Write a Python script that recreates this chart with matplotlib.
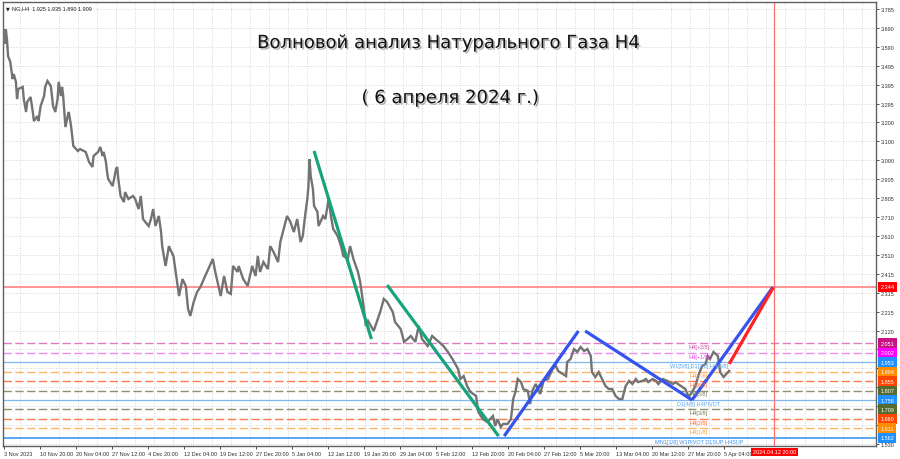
import matplotlib
matplotlib.use('Agg')
import matplotlib.pyplot as plt
import matplotlib.patheffects as pe
from matplotlib.transforms import blended_transform_factory
import numpy as np

# ---------------- data ----------------
bars = [0,1,2,3,4,6,8,9,11,12,13,17,18,20,21,24,26,27,30,31,33,36,37,39,42,44,46,48,49,51,
        52,53,55,57,58,60,61,62,66,68,73,76,79,80,84,86,88,89,91,92,93,97,100,101,102,104,107,108,111,115,
        117,120,122,124,126,129,131,133,135,138,140,141,144,147,148,151,153,156,159,162,164,166,169,172,175,178,182,186,188,193,
        196,199,202,204,208,209,213,217,221,224,226,228,231,235,237,240,244,246,249,252,255,258,261,264,266,268,270,271,272,273,
        275,276,279,280,284,286,289,291,293,297,300,302,306,308,311,315,317,320,322,324,329,332,335,338,341,346,348,353,356,359,
        362,366,369,372,377,381,384,387,391,395,399,404,406,409,412,415,420,422,426,430,435,437,439,442,444,448,451,453,455,457,
        460,462,466,468,470,473,477,480,484,488,491,493,497,500,501,504,507,510,513,516,519,522,523,526,529,532,535,538,541,544,
        547,550,553,556,559,562,564,568,571,573,577,580,582,586,590,595,597,602,606,609,612,615,618,621,624,626,628,631,635,637,
        640,644,645]
close = [3.671,3.604,3.681,3.629,3.541,3.510,3.422,3.448,3.407,3.318,3.370,3.381,3.318,3.251,3.303,3.329,3.251,3.204,3.230,3.204,
         3.282,3.334,3.381,3.412,3.386,3.282,3.251,3.318,3.407,3.334,3.381,3.334,3.173,3.230,3.251,3.178,3.127,3.075,3.049,3.059,
         3.044,2.992,2.966,3.023,3.044,3.070,3.023,3.044,2.992,2.940,2.904,2.867,2.956,2.966,2.904,2.816,2.784,2.836,2.800,2.816,
         2.800,2.748,2.816,2.696,2.681,2.660,2.696,2.748,2.660,2.712,2.629,2.556,2.453,2.556,2.541,2.505,2.422,2.297,2.385,2.349,
         2.230,2.194,2.266,2.318,2.344,2.385,2.437,2.489,2.427,2.297,2.401,2.318,2.308,2.453,2.422,2.453,2.385,2.349,2.453,2.401,
         2.505,2.422,2.473,2.437,2.556,2.525,2.473,2.577,2.645,2.712,2.681,2.629,2.696,2.577,2.608,2.712,2.800,2.867,3.007,2.919,
         2.852,2.764,2.733,2.660,2.712,2.696,2.800,2.712,2.645,2.608,2.556,2.505,2.489,2.556,2.489,2.422,2.370,2.245,2.142,2.168,
         2.116,2.168,2.219,2.282,2.266,2.214,2.162,2.126,2.059,2.074,2.090,2.059,2.142,2.074,2.038,2.090,2.074,2.059,2.038,2.007,
         1.971,1.919,1.867,1.882,1.831,1.800,1.779,1.696,1.659,1.644,1.675,1.623,1.659,1.618,1.634,1.634,1.659,1.763,1.800,1.867,
         1.851,1.815,1.805,1.737,1.805,1.841,1.789,1.857,1.867,1.919,1.934,1.908,1.893,1.882,1.955,1.971,2.022,2.007,2.033,2.012,
         2.022,1.986,1.903,1.877,1.903,1.867,1.831,1.815,1.815,1.779,1.763,1.763,1.831,1.857,1.841,1.867,1.851,1.857,1.867,1.851,
         1.867,1.857,1.841,1.867,1.857,1.841,1.851,1.831,1.815,1.774,1.800,1.831,1.893,1.934,1.945,1.986,1.971,2.007,1.986,1.903,
         1.877,1.903,1.909]

date_bars = list(range(0, 641, 32))
date_labels = ["3 Nov 2023", "10 Nov 20:00", "20 Nov 04:00", "27 Nov 12:00", "4 Dec 20:00",
               "12 Dec 04:00", "19 Dec 12:00", "27 Dec 20:00", "5 Jan 04:00", "12 Jan 12:00",
               "19 Jan 20:00", "29 Jan 04:00", "5 Feb 12:00", "12 Feb 20:00", "20 Feb 04:00",
               "27 Feb 12:00", "5 Mar 20:00", "13 Mar 04:00", "20 Mar 12:00", "27 Mar 20:00",
               "5 Apr 04:00"]

price_ticks = np.linspace(3.785, 1.530, 24)
# labels hidden behind the coloured level boxes are left blank
price_labels = ["3.785", "3.690", "3.590", "3.495", "3.395", "3.295", "3.200", "3.100",
                "3.000", "2.905", "2.805", "2.710", "2.610", "2.510", "2.415", "2.315",
                "2.215", "2.120", "", "", "", "", "", "1.530"]

# Murrey levels: value, line colour, box colour, linestyle, on-chart label, label colour
levels = [2.051, 2.002, 1.953, 1.904, 1.855, 1.807, 1.758, 1.709, 1.660, 1.611, 1.562]
level_line_colors = ['#e07ac4', '#f08af0', '#7fb8f0', '#ffb566', '#ff7a4a', '#8f9070',
                     '#7fb8f0', '#8f9070', '#ff7a4a', '#ffb566', '#2a8ff0']
level_box_colors = ['#c71585', '#ff00ff', '#1e90ff', '#ff8c00', '#ff4500', '#556b2f',
                    '#1e90ff', '#556b2f', '#ff4500', '#ff8c00', '#1e90ff']
level_styles = ['dash', 'dash', 'solid', 'dash', 'dash', 'dash', 'solid', 'dash', 'dash', 'dash', 'solid']
level_texts = ['H4[+2/8]', 'H4[+1/8]', 'W1[5/8] D1[3/8] H4[8/8]', 'H4[7/8]', 'H4[6/8]', 'H4[5/8]',
               'D1[4/8] H4PIVOT', 'H4[3/8]', 'H4[2/8]', 'H4[1/8]', 'MN1[1/8] W1PIVOT D1SUP H4SUP']
level_text_colors = ['#d048a8', '#ee44ee', '#5aa6ee', '#ff9f3a', '#ff6a3a', '#7f8060',
                     '#5aa6ee', '#6f7f4f', '#ff6a3a', '#ff9f3a', '#3a94ee']
level_text_bar = 618

red_level = 2.344
future_bar = 685
future_label = "2024.04.12 20:00"

# wave lines: (bar0, price0, bar1, price1)
green_waves = [(276, 3.049, 327, 2.074), (341, 2.354, 440, 1.571)]
blue_waves = [(445, 1.571, 511, 2.116), (517, 2.116, 612, 1.758), (612, 1.758, 684, 2.344)]
red_wave = [(645, 1.945, 684, 2.340)]

title1 = "Волновой анализ Натурального Газа H4"
title2 = "( 6 апреля 2024 г.)"
header = "NG,H4  1.925 1.935 1.890 1.909"

# ---------------- figure ----------------
W, H = 900, 460
fig = plt.figure(figsize=(W / 100, H / 100), dpi=100)
fig.patch.set_facecolor('white')
ax = fig.add_axes([3 / W, 1 - 447 / H, 873 / W, 444 / H])
ax.set_facecolor('white')
ax.set_xlim(-0.5, 775.5)
ax.set_ylim(1.5196, 3.8213)

fs = 4.0
font = 'Liberation Sans'

# grid / ticks
ax.set_yticks(price_ticks)
ax.set_yticklabels(price_labels)
ax.yaxis.tick_right()
ax.tick_params(axis='y', which='major', labelsize=fs, length=2, pad=1.5, width=0.6, colors='#303030')
for t in ax.get_yticklabels():
    t.set_fontfamily(font)
ax.grid(True, axis='y', which='major', color='#c8c8c8', linewidth=0.6, linestyle=(0, (1, 2)), zorder=0)

ax.set_xticks(date_bars)
ax.set_xticklabels(date_labels)
ax.set_xticks(np.arange(15, 776, 17), minor=True)
ax.tick_params(axis='x', which='major', labelsize=fs, length=2, pad=1.5, width=0.6, colors='#303030')
ax.tick_params(axis='x', which='minor', length=0)
for t in ax.get_xticklabels():
    t.set_ha('left')
    t.set_fontfamily(font)
ax.grid(True, axis='x', which='minor', color='#c8c8c8', linewidth=0.6, linestyle=(0, (1, 2)), zorder=0)
ax.set_axisbelow(True)

for s in ax.spines.values():
    s.set_color('#606060')
    s.set_linewidth(1.0)

ytrans = blended_transform_factory(ax.transAxes, ax.transData)
xtrans = blended_transform_factory(ax.transData, ax.transAxes)

box_pad = 'square,pad=0.45'

# levels
for v, lc, bc, st, txt, tc in zip(levels, level_line_colors, level_box_colors, level_styles,
                                  level_texts, level_text_colors):
    if st == 'dash':
        ax.axhline(v, color=lc, lw=1.0, dashes=(6, 2.5), zorder=2)
    else:
        ax.axhline(v, color=lc, lw=1.1 if v == levels[-1] else 0.9, zorder=2)
    ax.text(1.005, v, f"{v:.3f}", transform=ytrans, ha='left', va='center', fontsize=fs,
            family=font, color='white', zorder=10, clip_on=False,
            bbox=dict(boxstyle=box_pad, fc=bc, ec='none'))
    ax.text(level_text_bar, v - 0.004, txt, ha='center', va='top', fontsize=fs, family=font,
            color=tc, zorder=6)

ax.axhline(red_level, color='#ff8080', lw=1.2, zorder=2)
ax.text(1.005, red_level, f"{red_level:.3f}", transform=ytrans, ha='left', va='center', fontsize=fs,
        family=font, color='white', zorder=10, clip_on=False,
        bbox=dict(boxstyle=box_pad, fc='#ff0000', ec='none'))

ax.axvline(future_bar, color='#ff7070', lw=0.9, zorder=2)
ax.text(future_bar, -0.0135, future_label, transform=xtrans, ha='center', va='center', fontsize=fs,
        family=font, color='white', zorder=10, clip_on=False,
        bbox=dict(boxstyle='square,pad=0.35', fc='#ff0000', ec='none'))

# price
ax.plot(bars, close, color='#737373', lw=1.7, solid_joinstyle='miter', zorder=3)

# waves
for b0, p0, b1, p1 in green_waves:
    ax.plot([b0, b1], [p0, p1], color='#17a37c', lw=2.3, solid_capstyle='butt', zorder=4)
for b0, p0, b1, p1 in blue_waves:
    ax.plot([b0, b1], [p0, p1], color='#3553ee', lw=2.3, solid_capstyle='butt', zorder=4)
for b0, p0, b1, p1 in red_wave:
    ax.plot([b0, b1], [p0, p1], color='#ff2222', lw=2.3, solid_capstyle='butt', zorder=4)

# titles
shadow = [pe.SimplePatchShadow(offset=(1.2, -1.2), shadow_rgbFace='#808080', alpha=0.6), pe.Normal()]
fig.text(448 / W, 1 - 44 / H, title1, ha='center', va='center', fontsize=13, family='DejaVu Sans',
         color='#111111', path_effects=shadow)
fig.text(450 / W, 1 - 99 / H, title2, ha='center', va='center', fontsize=13, family='DejaVu Sans',
         color='#111111', path_effects=shadow)

fig.text(6 / W, 1 - 9 / H, "▼", ha='left', va='center', fontsize=3.5, family='DejaVu Sans', color='#202020')
fig.text(12 / W, 1 - 9 / H, header, ha='left', va='center', fontsize=fs, family=font, color='#202020')

fig.savefig('out.png', dpi=100)
